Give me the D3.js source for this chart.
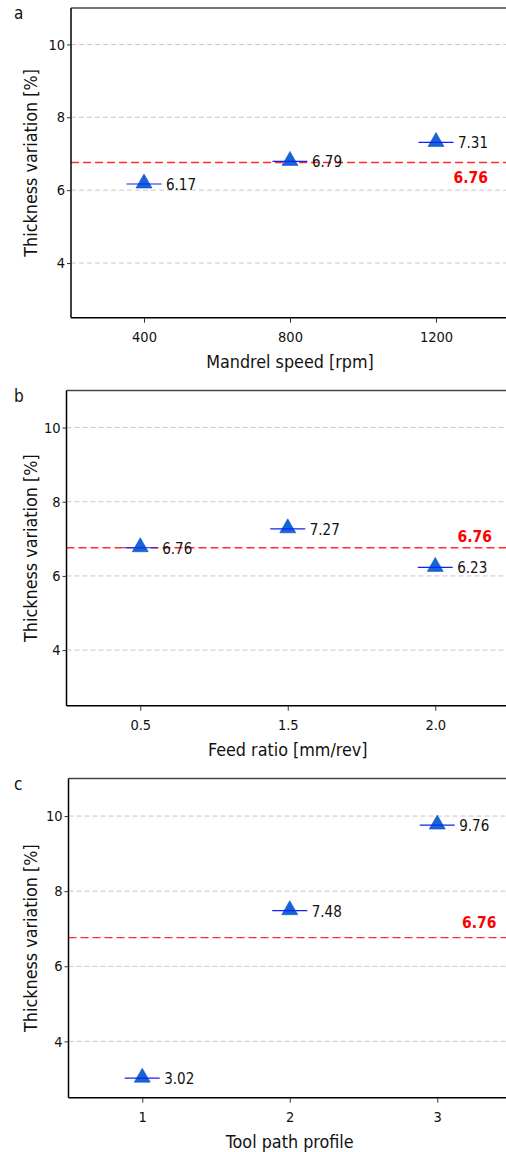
<!DOCTYPE html>
<html>
<head>
<meta charset="utf-8">
<script src="https://cdn.jsdelivr.net/npm/d3@7/dist/d3.min.js"></script>
<style>
html,body{margin:0;padding:0;background:#fff;}
svg{display:block;}
text{font-family:"DejaVu Sans Condensed","DejaVu Sans",sans-serif;font-stretch:condensed;}
</style>
</head>
<body>
<svg id="chart" width="506" height="1152"></svg>
<script>
// ---- data ----
const panelLetters = ["a", "b", "c"];
const xTitles = ["Mandrel speed [rpm]", "Feed ratio [mm/rev]", "Tool path profile"];
const yTitle = "Thickness variation [%]";
const categoriesA = ["400", "800", "1200"];
const categoriesB = ["0.5", "1.5", "2.0"];
const categoriesC = ["1", "2", "3"];
const valuesA = [6.17, 6.79, 7.31];
const valuesB = [6.76, 7.27, 6.23];
const valuesC = [3.02, 7.48, 9.76];
const meanValue = 6.76;
const yTicks = [4, 6, 8, 10];
const yDomain = [2.5, 11];

// ---- layout (positions only) ----
const layout = [
  {left: 71, right: 509, top: 8, bottom: 317.7, meanDy: 21, meanRight: 488},
  {left: 66.5, right: 509, top: 390.5, bottom: 705.7, meanDy: -6, meanRight: 492},
  {left: 68.5, right: 511, top: 778.5, bottom: 1097.7, meanDy: -10, meanRight: 496.5}
];
const panels = [
  {cats: categoriesA, vals: valuesA},
  {cats: categoriesB, vals: valuesB},
  {cats: categoriesC, vals: valuesC}
];

const svg = d3.select("#chart");

panels.forEach((p, i) => {
  const L = layout[i];
  const g = svg.append("g");
  const x = d3.scaleLinear().domain([0.5, p.cats.length + 0.5]).range([L.left, L.right]);
  const y = d3.scaleLinear().domain(yDomain).range([L.bottom, L.top]);

  const clipId = "clip" + i;
  svg.append("clipPath").attr("id", clipId).append("rect")
    .attr("x", L.left).attr("y", L.top - 2).attr("width", L.right - L.left).attr("height", L.bottom - L.top + 4);

  // gridlines
  g.append("g").selectAll("line").data(yTicks).join("line")
    .attr("x1", L.left).attr("x2", L.right)
    .attr("y1", d => y(d)).attr("y2", d => y(d))
    .attr("stroke", "#c8c8c8").attr("stroke-width", 1)
    .attr("stroke-dasharray", "5,3");

  // frame top
  g.append("line").attr("x1", L.left).attr("x2", L.right).attr("y1", L.top).attr("y2", L.top)
    .attr("stroke", "#444").attr("stroke-width", 1.5);

  // mean line
  g.append("line").attr("x1", L.left).attr("x2", L.right)
    .attr("y1", y(meanValue)).attr("y2", y(meanValue))
    .attr("stroke", "#ff2a2a").attr("stroke-width", 1.3).attr("stroke-dasharray", "8,4");
  g.append("text").attr("x", L.meanRight).attr("y", y(meanValue) + L.meanDy)
    .attr("text-anchor", "end").attr("fill", "#ff0000")
    .attr("font-weight", "bold").attr("font-size", 15.5)
    .text(meanValue.toFixed(2));

  // axes
  const yAxis = d3.axisLeft(y).tickValues(yTicks).tickSize(4).tickPadding(2).tickFormat(d3.format("d"));
  const ya = g.append("g").attr("transform", `translate(${L.left},0)`).call(yAxis);
  const xAxis = d3.axisBottom(x).tickValues(d3.range(1, p.cats.length + 1)).tickSize(5).tickPadding(9)
    .tickFormat((d, k) => p.cats[k]);
  const xa = g.append("g").attr("transform", `translate(0,${L.bottom})`).call(xAxis);
  [ya, xa].forEach(a => {
    a.select(".domain").attr("stroke", "#000").attr("stroke-width", 1.5);
    a.selectAll(".tick line").attr("stroke", "#333");
    a.selectAll(".tick text").attr("font-size", 14.5).attr("fill", "#111")
      .style("font-family", '"DejaVu Sans Condensed","DejaVu Sans",sans-serif');
  });
  ya.select(".domain").attr("d", `M0,${L.top}V${L.bottom}`);
  xa.select(".domain").attr("d", `M${L.left},0H${L.right}`);

  // titles
  g.append("text").attr("x", (L.left + L.right) / 2).attr("y", L.bottom + 50)
    .attr("text-anchor", "middle").attr("font-size", 17.8).attr("fill", "#111").text(xTitles[i]);
  g.append("text").attr("transform", `translate(37,${(L.top + L.bottom) / 2}) rotate(-90)`)
    .attr("text-anchor", "middle").attr("font-size", 17.8).attr("fill", "#111").text(yTitle);
  g.append("text").attr("x", 14).attr("y", L.top + 11).attr("font-size", 17).attr("fill", "#111")
    .text(panelLetters[i]);

  // points
  const pts = g.append("g").attr("clip-path", `url(#${clipId})`);
  const data = p.vals.map((v, k) => ({x: k + 1, v}));
  pts.selectAll("path.tri").data(data).join("path").attr("class", "tri")
    .attr("transform", d => `translate(${x(d.x)},${y(d.v)})`)
    .attr("d", "M0,-10L8,4L-8,4Z")
    .attr("fill", "#1565d6").attr("stroke", "#0f55c0").attr("stroke-width", 0.6);
  pts.selectAll("line.err").data(data).join("line").attr("class", "err")
    .attr("x1", d => x(d.x) - 17.5).attr("x2", d => x(d.x) + 17.5)
    .attr("y1", d => y(d.v)).attr("y2", d => y(d.v))
    .attr("stroke", "#1020ff").attr("stroke-width", 1.2);
  g.selectAll("text.lab").data(data).join("text").attr("class", "lab")
    .attr("x", d => x(d.x) + 22).attr("y", d => y(d.v) + 6)
    .attr("font-size", 15).attr("fill", "#111").text(d => d.v.toFixed(2));
});
</script>
</body>
</html>
